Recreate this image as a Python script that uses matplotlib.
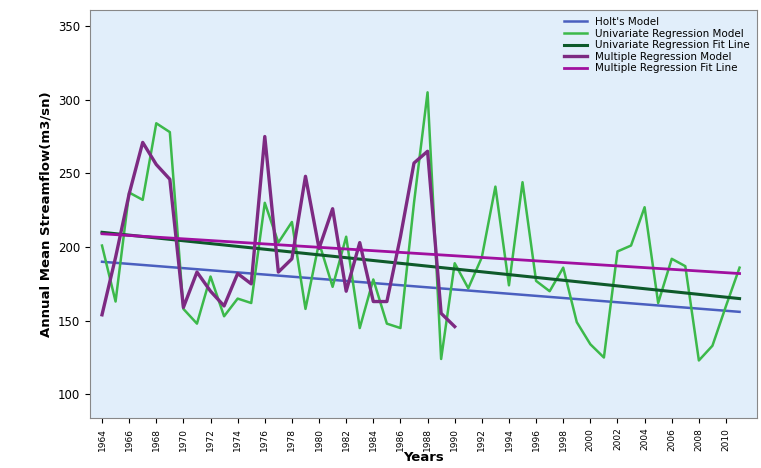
import numpy as np
import matplotlib
matplotlib.use("Agg")
import matplotlib.pyplot as plt

years = np.arange(1964, 2012)
univariate = [201, 163, 237, 232, 284, 278, 158, 148, 180, 153, 165, 162, 230, 203, 217, 158,
              203, 173, 207, 145, 178, 148, 145, 230, 305, 124, 189, 172, 193, 241, 174, 244,
              177, 170, 186, 149, 134, 125, 197, 201, 227, 162, 192, 187, 123, 133, 160, 186]
multi_years = np.arange(1964, 1991)
multiple = [154, 193, 236, 271, 256, 246, 159, 183, 170, 160, 182, 175, 275, 183, 192, 248,
            199, 226, 170, 203, 163, 163, 207, 257, 265, 155, 146]
holt_ends = [190, 156]
uni_fit_ends = [210, 165]
multi_fit_ends = [209, 182]
ends = [1964, 2011]

fig = plt.figure(figsize=(7.61, 4.68), dpi=100)
ax = fig.add_axes([0.118, 0.107, 0.877, 0.872])
ax.set_facecolor("#E1EEFA")
ax.plot(ends, holt_ends, color="#4A5FBF", lw=1.8, label="Holt's Model")
ax.plot(years, univariate, color="#3CB94A", lw=1.8, label="Univariate Regression Model")
ax.plot(ends, uni_fit_ends, color="#0E5A2A", lw=2.2, label="Univariate Regression Fit Line")
ax.plot(multi_years, multiple, color="#7D2A82", lw=2.4, label="Multiple Regression Model")
ax.plot(ends, multi_fit_ends, color="#A0109F", lw=2.0, label="Multiple Regression Fit Line")

ax.set_xlim(1963.1, 2012.3)
ax.set_ylim(84, 361)
ax.set_yticks([100, 150, 200, 250, 300, 350])
ax.set_xticks(np.arange(1964, 2011, 2))
ax.tick_params(axis="x", rotation=90, labelsize=6.5)
ax.tick_params(axis="y", labelsize=8.5)
for s in ax.spines.values():
    s.set_color("#888888")
ax.set_xlabel("Years", fontweight="bold", fontsize=9.5, labelpad=0)
ax.set_ylabel("Annual Mean Streamflow(m3/sn)", fontweight="bold", fontsize=9.5)
ax.legend(loc="upper right", frameon=False, fontsize=7.5, handlelength=2.2,
          labelspacing=0.15, borderaxespad=0.3)
fig.savefig("out.png")
